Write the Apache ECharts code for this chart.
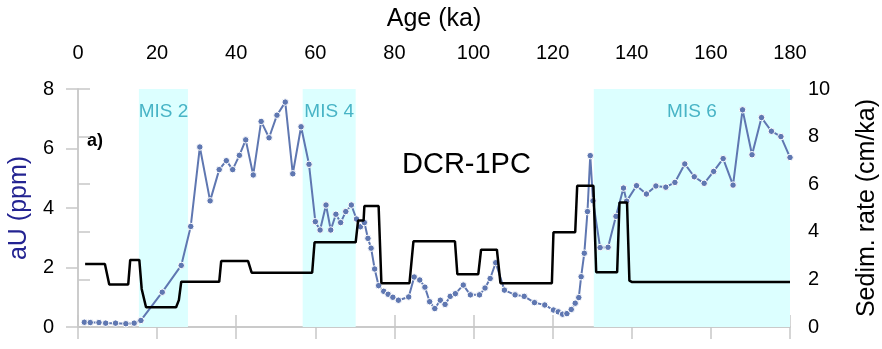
<!DOCTYPE html>
<html>
<head>
    <meta charset="utf-8">
    <title>DCR-1PC</title>
    <script src="https://cdn.jsdelivr.net/npm/echarts@6.0.0/dist/echarts.min.js"></script>
    <style>
        html, body { margin: 0; padding: 0; background: #fff; }
        #main { width: 882px; height: 349px; }
    </style>
</head>
<body>
<div id="main"></div>
<script>
    // aU (ppm) vs age (ka)
    var ageU = [1.6, 3.1, 5.3, 7.0, 9.5, 12.1, 14.2, 15.9, 21.3, 26.1, 28.5, 30.8, 33.4, 35.7, 37.5, 39.1,
        40.8, 42.4, 44.3, 46.3, 48.3, 50.3, 52.4, 54.3, 56.4, 58.4, 60.0, 61.2, 62.7, 63.9, 65.2, 66.4,
        67.7, 69.1, 70.4, 71.4, 72.4, 73.3, 74.1, 75.0, 76.0, 77.3, 78.4, 79.6, 81.0, 83.6, 85.0, 86.4,
        87.7, 88.9, 90.2, 91.6, 92.8, 94.1, 95.4, 97.4, 99.2, 101.5, 102.9, 104.2, 105.6, 107.8, 110.5,
        112.8, 115.4, 118.0, 120.2, 121.4, 122.5, 123.6, 124.7, 125.7, 126.6, 127.2, 128.0, 128.8, 129.5,
        130.2, 132.0, 134.0, 136.0, 137.9, 138.7, 141.2, 143.7, 146.1, 148.6, 150.9, 153.4, 155.8, 158.3,
        160.7, 163.1, 165.6, 168.0, 170.4, 172.8, 175.3, 177.7, 180.0];
    var aU = [0.16, 0.15, 0.15, 0.13, 0.13, 0.11, 0.13, 0.22, 1.17, 2.07, 3.38, 6.05, 4.24, 5.29, 5.59, 5.29,
        5.77, 6.29, 5.11, 6.91, 6.36, 7.12, 7.56, 5.15, 6.73, 5.47, 3.54, 3.26, 4.10, 3.26, 3.79, 3.51,
        3.88, 4.10, 3.63, 3.37, 3.51, 2.98, 2.65, 1.95, 1.39, 1.20, 1.10, 1.00, 0.90, 1.01, 1.68, 1.58,
        1.34, 0.85, 0.62, 0.90, 0.76, 1.03, 1.12, 1.41, 1.08, 1.08, 1.31, 1.63, 2.16, 1.24, 1.08,
        1.03, 0.82, 0.74, 0.57, 0.51, 0.43, 0.45, 0.59, 0.80, 0.99, 1.69, 2.48, 3.88, 5.76,
        4.24, 2.67, 2.68, 3.72, 4.67, 4.23, 4.75, 4.47, 4.74, 4.70, 4.86, 5.48, 5.05, 4.83,
        5.23, 5.66, 4.77, 7.30, 5.79, 7.04, 6.58, 6.40, 5.70];

    // sedimentation rate (cm/ka), stepped
    var ageRate = [1.8, 6.8, 7.9, 12.7, 13.2, 15.5, 16.1, 17.2, 24.8, 25.5, 26.1, 35.7, 36.2, 43.0, 43.9,
        59.2, 59.8, 70.2, 70.8, 72.2, 72.4, 76.0, 76.7, 83.8, 84.8, 95.3, 95.9, 101.2, 101.9, 105.9,
        106.8, 119.8, 120.2, 125.7, 126.2, 130.3, 131.0, 136.3, 136.9, 138.8, 139.4, 140.1, 180.0];
    var rate = [2.65, 2.65, 1.79, 1.79, 2.82, 2.82, 1.6, 0.83, 0.83, 1.13, 1.9, 1.9, 2.77, 2.77, 2.28,
        2.28, 3.56, 3.56, 4.47, 4.47, 5.08, 5.08, 1.84, 1.84, 3.60, 3.60, 2.22, 2.22, 3.25, 3.25,
        1.84, 1.84, 3.98, 3.98, 5.93, 5.93, 2.30, 2.30, 5.23, 5.23, 1.95, 1.89, 1.89];

    // marine isotope stages
    var misNames = ['MIS 2', 'MIS 4', 'MIS 6'];
    var misStart = [15.4, 56.8, 130.4];
    var misEnd = [27.8, 70.2, 180];

    var font = 'Liberation Sans, Arial, sans-serif';
    var frame = '#c8c8c8';

    var uData = ageU.map(function (a, i) { return [a, aU[i]]; });
    var rateData = ageRate.map(function (a, i) { return [a, rate[i]]; });
    var bands = misNames.map(function (n, i) {
        return [{ name: n, xAxis: misStart[i] }, { xAxis: misEnd[i] }];
    });

    var axisCommon = {
        axisLine: { show: true, lineStyle: { color: frame, width: 1.5 } },
        axisTick: { show: true, inside: false, length: 12, lineStyle: { color: frame, width: 1.5 } },
        splitLine: { show: false }
    };

    var myChart = echarts.init(document.getElementById('main'));
    var option = {
        animation: false,
        textStyle: { fontFamily: font },
        grid: { left: 78, right: 92, top: 89, bottom: 22, containLabel: false, outerBoundsMode: 'none' },
        graphic: [
            {
                type: 'text', left: 402, top: 150,
                style: { text: 'DCR-1PC', fontSize: 29, fontFamily: font, fill: '#000' }
            },
            {
                type: 'text', left: 87, top: 132,
                style: { text: 'a)', fontSize: 18, fontWeight: 'bold', fontFamily: font, fill: '#000' }
            }
        ],
        xAxis: [
            echarts.util.merge({
                type: 'value', position: 'top', min: 0, max: 180, interval: 20,
                name: 'Age (ka)', nameLocation: 'middle', nameGap: 57,
                nameTextStyle: { fontSize: 25, color: '#000', fontFamily: font },
                axisLabel: { fontSize: 20, color: '#000', margin: 26, fontFamily: font }
            }, axisCommon, true),
            echarts.util.merge({
                type: 'value', position: 'bottom', min: 0, max: 180, interval: 20,
                axisLabel: { show: false }
            }, axisCommon, true)
        ],
        yAxis: [
            echarts.util.merge({
                type: 'value', position: 'left', min: 0, max: 8, interval: 2,
                name: 'aU (ppm)', nameLocation: 'middle', nameGap: 37, nameRotate: 90,
                nameTextStyle: { fontSize: 25, color: '#232391', fontFamily: font },
                axisLabel: { fontSize: 20, color: '#000', margin: 24, fontFamily: font }
            }, axisCommon, true),
            echarts.util.merge({
                type: 'value', position: 'right', min: 0, max: 10, interval: 2,
                name: 'Sedim. rate (cm/ka)', nameLocation: 'middle', nameGap: 65, nameRotate: 90,
                nameTextStyle: { fontSize: 25, color: '#000', fontFamily: font },
                axisLabel: { fontSize: 20, color: '#000', margin: 18, fontFamily: font }
            }, axisCommon, true)
        ],
        series: [
            {
                name: 'aU',
                type: 'line',
                xAxisIndex: 0,
                yAxisIndex: 0,
                data: uData,
                symbol: 'circle',
                symbolSize: 6.5,
                lineStyle: { color: '#5f77b1', width: 2 },
                itemStyle: { color: '#5f77b1', borderColor: '#fff', borderWidth: 1 },
                z: 3,
                markArea: {
                    silent: true,
                    itemStyle: { color: '#dcffff' },
                    label: {
                        show: true, position: 'insideTop', distance: 13,
                        fontSize: 19, color: '#48b4c6', fontFamily: font
                    },
                    data: bands
                }
            },
            {
                name: 'Sedim. rate',
                type: 'line',
                xAxisIndex: 0,
                yAxisIndex: 1,
                data: rateData,
                symbol: 'none',
                lineStyle: { color: '#000', width: 2.5 },
                z: 4
            }
        ]
    };
    myChart.setOption(option);
</script>
</body>
</html>
